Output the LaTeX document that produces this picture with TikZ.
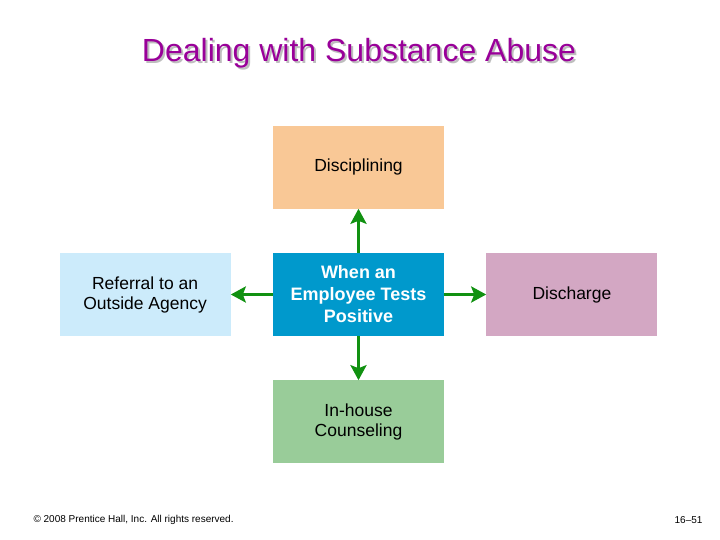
\documentclass[tikz,border=0pt]{standalone}
\usepackage{fontspec}
\setmainfont{Liberation Sans}
\usepackage{tikz}
\usetikzlibrary{arrows.meta, positioning}
\definecolor{titlepurple}{RGB}{153, 0, 153}
\definecolor{shadowgray}{RGB}{190, 190, 190}
\definecolor{peach}{RGB}{249, 200, 150}
\definecolor{centerblue}{RGB}{0, 153, 204}
\definecolor{paleblue}{RGB}{204, 235, 251}
\definecolor{mauve}{RGB}{211, 167, 195}
\definecolor{softgreen}{RGB}{153, 204, 153}
\definecolor{arrowgreen}{RGB}{17, 145, 17}

\begin{document}
\begin{tikzpicture}[
    x=1pt, y=-1pt,
    node distance=44pt and 42pt,
    box/.style={rectangle, minimum width=171pt, minimum height=83pt, inner sep=0pt,
        align=center, font=\fontsize{17.5}{20}\selectfont},
    hub/.style={box, fill=centerblue, text=white, font=\fontsize{18}{22}\selectfont\bfseries},
    edge/.style={-{Stealth[length=15pt, width=16pt, inset=3pt]}, line width=3.5pt, arrowgreen}
]
    \useasboundingbox[fill=white] (0,0) rectangle (720,540);

    % Title with its drop shadow
    \node[text=titlepurple, font=\fontsize{32}{36}\selectfont] (title) at (359,54)
        {\rlap{\kern2pt\raisebox{-2pt}{\color{shadowgray}Dealing with Substance Abuse}}Dealing with Substance Abuse};

    % Boxes
    \node[hub] (test) at (358.5,294.5) {When an\\Employee Tests\\Positive};
    \node[box, fill=peach, above=of test] (discipline) {Disciplining};
    \node[box, fill=softgreen, below=of test] (counsel) {In-house\\Counseling};
    \node[box, fill=paleblue, left=of test] (referral) {Referral to an\\Outside Agency};
    \node[box, fill=mauve, right=of test] (discharge) {Discharge};

    % Arrows out of the centre
    \draw[edge] (test) -- (discipline);
    \draw[edge] (test) -- (counsel);
    \draw[edge] (test) -- (referral);
    \draw[edge] (test) -- (discharge);

    % Footer
    \node[anchor=west, font=\fontsize{10}{12}\selectfont] (copy) at (30,520) {\textcopyright\ 2008 Prentice Hall, Inc. All rights reserved.};
    \node[anchor=east, font=\fontsize{10}{12}\selectfont] (page) at (706,520) {16--51};
\end{tikzpicture}
\end{document}
